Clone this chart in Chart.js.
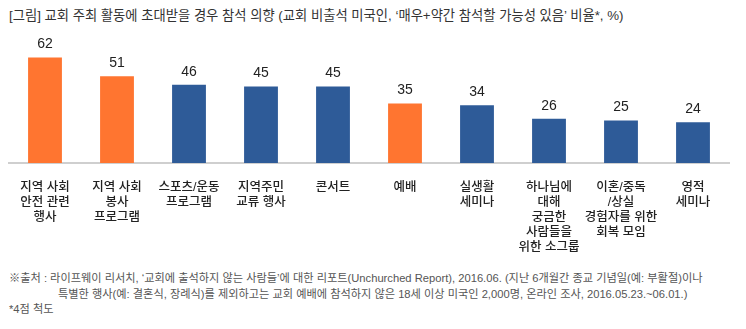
<!DOCTYPE html>
<html>
<head>
<meta charset="utf-8">
<script src="https://cdn.jsdelivr.net/npm/chart.js@4"></script>
<style>
  body { margin: 0; width: 746px; height: 329px; background: #fff; position: relative; overflow: hidden;
    font-family: 'Liberation Sans', 'Noto Sans CJK KR', sans-serif; color: #333; }
  .title { position: absolute; left: 9px; top: 5px; font-size: 13.3px; white-space: nowrap; }
  .chart-holder { position: absolute; left: 0; top: 25px; width: 746px; height: 240px; }
  .notes { position: absolute; left: 9px; top: 271px; font-size: 11.2px; color: #555; line-height: 15.5px; white-space: nowrap; }
  .notes .indent { padding-left: 49px; }
</style>
</head>
<body>
<div class="title">[그림] 교회 주최 활동에 초대받을 경우 참석 의향 (교회 비출석 미국인, ‘매우+약간 참석할 가능성 있음’ 비율*, %)</div>
<div class="chart-holder"><canvas id="chart"></canvas></div>
<div class="notes">
  <div>※출처 : 라이프웨이 리서치, ‘교회에 출석하지 않는 사람들’에 대한 리포트(Unchurched Report), 2016.06. (지난 6개월간 종교 기념일(예: 부활절)이나</div>
  <div class="indent">특별한 행사(예: 결혼식, 장례식)를 제외하고는 교회 예배에 참석하지 않은 18세 이상 미국인 2,000명, 온라인 조사, 2016.05.23.~06.01.)</div>
  <div>*4점 척도</div>
</div>
<script>
  const categories = [
    ['지역 사회', '안전 관련', '행사'],
    ['지역 사회', '봉사', '프로그램'],
    ['스포츠/운동', '프로그램'],
    ['지역주민', '교류 행사'],
    ['콘서트'],
    ['예배'],
    ['실생활', '세미나'],
    ['하나님에', '대해', '궁금한', '사람들을', '위한 소그룹'],
    ['이혼/중독', '/상실', '경험자를 위한', '회복 모임'],
    ['영적', '세미나'],
  ];
  const values = [62, 51, 46, 45, 45, 35, 34, 26, 25, 24];
  const highlighted = [0, 1, 5];

  const ORANGE = '#ff7530';
  const BLUE = '#2e5b98';
  const FONT = "'Liberation Sans', 'Noto Sans CJK KR', sans-serif";

  const valueLabels = {
    id: 'valueLabels',
    afterDatasetsDraw(chart) {
      const { ctx } = chart;
      const meta = chart.getDatasetMeta(0);
      ctx.save();
      ctx.font = `14px ${FONT}`;
      ctx.fillStyle = '#222';
      ctx.textAlign = 'center';
      ctx.textBaseline = 'bottom';
      meta.data.forEach((bar, i) => {
        ctx.fillText(String(values[i]), bar.x, bar.y - 6);
      });
      ctx.restore();
    },
  };

  new Chart(document.getElementById('chart'), {
    type: 'bar',
    data: {
      labels: categories,
      datasets: [{
        data: values,
        backgroundColor: (c) => (highlighted.includes(c.dataIndex) ? ORANGE : BLUE),
        barPercentage: 0.47,
        categoryPercentage: 1,
      }],
    },
    options: {
      responsive: true,
      maintainAspectRatio: false,
      animation: false,
      layout: { padding: { left: 9, right: 17, top: 19, bottom: 1 } },
      plugins: {
        legend: { display: false },
        tooltip: { enabled: false },
      },
      scales: {
        x: {
          grid: { display: false },
          border: { display: true, color: '#cfcfcf', width: 2 },
          ticks: {
            color: '#222',
            padding: 9,
            maxRotation: 0,
            autoSkip: false,
            font: { family: FONT, size: 12.5, weight: '500', lineHeight: 1.2 },
          },
        },
        y: {
          display: false,
          min: 0,
          max: 70,
        },
      },
    },
    plugins: [valueLabels],
  });
</script>
</body>
</html>
